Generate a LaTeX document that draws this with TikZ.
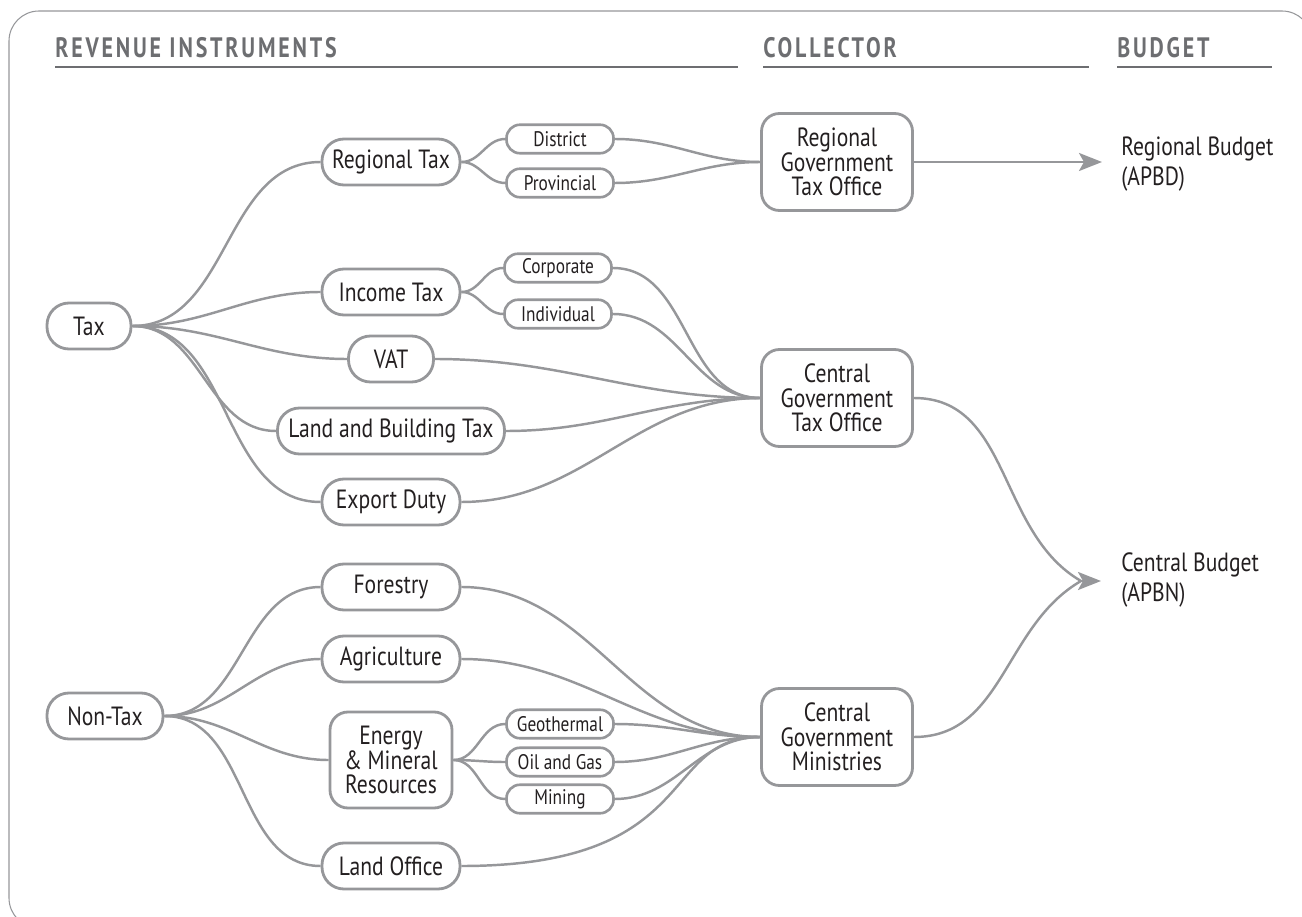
\documentclass[tikz,border=0pt]{standalone}
\usepackage{fontspec}
\setmainfont{PT Sans}[FakeStretch=0.82]
\newfontfamily\headfont{PT Sans}[FakeStretch=0.78, LetterSpace=10]
\usepackage{tikz}
\usetikzlibrary{arrows.meta}
\usepackage{color}
\definecolor{ashgray}{RGB}{150, 151, 154}
\definecolor{slategray}{RGB}{109, 110, 113}
\definecolor{inkblack}{RGB}{35, 31, 32}

\tikzset{
  pill/.style={draw=ashgray, line width=1.6pt, rounded corners=0.44cm, minimum height=0.92cm,
               minimum width=2.76cm, inner sep=0pt, text=inkblack, font=\fontsize{15}{13.9}\selectfont},
  subpill/.style={draw=ashgray, line width=1.5pt, rounded corners=0.27cm, minimum height=0.57cm,
                  minimum width=2.14cm, inner sep=0pt, text=inkblack, font=\fontsize{12}{12}\selectfont},
  office/.style={draw=ashgray, line width=1.6pt, rounded corners=0.36cm, minimum height=1.94cm,
                 minimum width=3.02cm, inner sep=0pt, align=center, text=inkblack,
                 font=\fontsize{15}{13.9}\selectfont},
  budget/.style={anchor=west, align=left, inner sep=0pt, text=inkblack, font=\fontsize{15}{17}\selectfont},
  header/.style={anchor=base west, inner sep=0pt, text=slategray, font=\headfont\bfseries\fontsize{16}{16}\selectfont},
  flow/.style={draw=ashgray, line width=1.4pt},
  flowarrow/.style={flow, -{Stealth[length=0.46cm, width=0.36cm, inset=0.1cm]}},
}

\begin{document}
\begin{tikzpicture}
            \useasboundingbox (0.00, 0.00) rectangle (26.04, 18.32);
            \clip             (0.00, 0.00) rectangle (26.04, 18.32);
            % Frame
            \draw[color=ashgray, line width=0.6pt, rounded corners=0.6cm] (0.18, 18.10) rectangle (26.24, -0.24);
            % Headers
            \node[header] (hrev) at ( 1.10, 17.16) {REVENUE INSTRUMENTS};
            \node[header] (hcol) at (15.26, 17.16) {COLLECTOR};
            \node[header] (hbud) at (22.34, 17.16) {BUDGET};
            \draw[color=slategray, line width=1.6pt] ( 1.10, 16.98) -- (14.76, 16.98);
            \draw[color=slategray, line width=1.6pt] (15.26, 16.98) -- (21.78, 16.98);
            \draw[color=slategray, line width=1.6pt] (22.34, 16.98) -- (25.44, 16.98);
            % Tax side
            \node[pill, minimum width=1.68cm] (tax)        at ( 1.78, 11.80) {Tax};
            \node[pill]                       (regtax)     at ( 7.82, 15.08) {Regional Tax};
            \node[subpill]                    (district)   at (11.20, 15.54) {District};
            \node[subpill]                    (provincial) at (11.20, 14.66) {Provincial};
            \node[pill]                       (inctax)     at ( 7.82, 12.48) {Income Tax};
            \node[subpill]                    (corporate)  at (11.16, 12.96) {Corporate};
            \node[subpill]                    (individual) at (11.16, 12.04) {Individual};
            \node[pill, minimum width=1.70cm] (vat)        at ( 7.82, 11.14) {VAT};
            \node[pill, minimum width=4.54cm] (landbuild)  at ( 7.82,  9.70) {Land and Building Tax};
            \node[pill]                       (export)     at ( 7.82,  8.28) {Export Duty};
            % Non-Tax side
            \node[pill, minimum width=2.32cm] (nontax)     at ( 2.10,  4.00) {Non-Tax};
            \node[pill]                       (forestry)   at ( 7.82,  6.58) {Forestry};
            \node[pill]                       (agri)       at ( 7.82,  5.14) {Agriculture};
            \node[office, minimum width=2.44cm, minimum height=1.92cm] (energy) at ( 7.82,  3.12)
                 {Energy\\\& Mineral\\Resources};
            \node[subpill]                    (geo)        at (11.20,  3.84) {Geothermal};
            \node[subpill]                    (oil)        at (11.20,  3.08) {Oil and Gas};
            \node[subpill]                    (mining)     at (11.20,  2.34) {Mining};
            \node[pill]                       (landoff)    at ( 7.82,  1.00) {Land Office};
            % Collectors
            \node[office] (rgto) at (16.74, 15.08) {Regional\\Government\\Tax Office};
            \node[office] (cgto) at (16.74, 10.36) {Central\\Government\\Tax Office};
            \node[office] (cgm)  at (16.74,  3.58) {Central\\Government\\Ministries};
            % Budgets
            \node[budget] (rbudget) at (22.42, 15.04) {Regional Budget\\(APBD)};
            \node[budget] (cbudget) at (22.42,  6.72) {Central Budget\\(APBN)};
            \coordinate (rbtip)  at (22.04, 15.08);
            \coordinate (cbjoin) at (21.62,  6.70);
            \coordinate (cbtip)  at (22.02,  6.70);
            % Tax branches
            \foreach \kid in {regtax, inctax, vat, landbuild, export}
                \draw[flow] (tax.east) to[out=0, in=180] (\kid.west);
            \draw[flow] (regtax.east) to[out=0, in=180] (district.west);
            \draw[flow] (regtax.east) to[out=0, in=180] (provincial.west);
            \draw[flow] (inctax.east) to[out=0, in=180] (corporate.west);
            \draw[flow] (inctax.east) to[out=0, in=180] (individual.west);
            \foreach \src in {district, provincial}
                \draw[flow] (\src.east) to[out=0, in=180] (rgto.west);
            \foreach \src in {corporate, individual, vat, landbuild, export}
                \draw[flow] (\src.east) to[out=0, in=180] (cgto.west);
            % Non-Tax branches
            \foreach \kid in {forestry, agri, energy, landoff}
                \draw[flow] (nontax.east) to[out=0, in=180] (\kid.west);
            \foreach \kid in {geo, oil, mining}
                \draw[flow] (energy.east) to[out=0, in=180] (\kid.west);
            \foreach \src in {forestry, agri, geo, oil, mining}
                \draw[flow] (\src.east) to[out=0, in=180] (cgm.west);
            \draw[flow] (landoff.east) to[out=0, in=180, out looseness=1.9, in looseness=0.8] (cgm.west);
            % To budgets
            \draw[flowarrow] (rgto.east) -- (rbtip);
            \draw[flow] (cgto.east) to[out=0, in=150] (cbjoin);
            \draw[flow] (cgm.east)  to[out=0, in=210] (cbjoin);
            \draw[flowarrow] (cbjoin) -- (cbtip);
\end{tikzpicture}
\end{document}
